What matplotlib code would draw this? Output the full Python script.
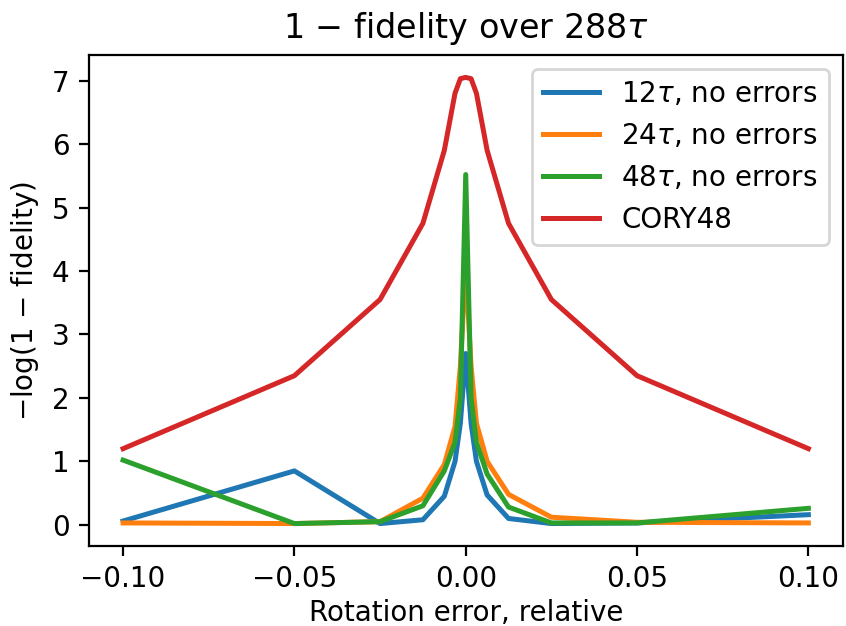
import matplotlib
matplotlib.use("Agg")
import matplotlib.pyplot as plt

# rotation errors (relative)
x = [-0.1, -0.05, -0.025, -0.0125, -0.00625, -0.003125, -0.0015625, 0.0,
     0.0015625, 0.003125, 0.00625, 0.0125, 0.025, 0.05, 0.1]

# -log(1 - fidelity)
y12 = [0.06, 0.85, 0.02, 0.08, 0.45, 1.0, 1.6, 2.7,
       1.6, 1.0, 0.47, 0.1, 0.02, 0.03, 0.16]
y24 = [0.03, 0.02, 0.05, 0.42, 0.95, 1.55, 2.5, 4.1,
       2.5, 1.6, 1.0, 0.48, 0.12, 0.04, 0.03]
y48 = [1.02, 0.02, 0.05, 0.3, 0.85, 1.3, 2.0, 5.52,
       2.0, 1.3, 0.8, 0.28, 0.03, 0.03, 0.26]
ycory = [1.2, 2.35, 3.55, 4.75, 5.9, 6.8, 7.03, 7.05,
         7.03, 6.8, 5.9, 4.75, 3.55, 2.35, 1.2]

labels = [r"12$\tau$, no errors", r"24$\tau$, no errors",
          r"48$\tau$, no errors", "CORY48"]

fig = plt.figure(figsize=(846 / 200, 626 / 200), dpi=200)
ax = fig.add_axes([0.105, 0.128, 0.891, 0.784])

for ys, lab in zip([y12, y24, y48, ycory], labels):
    ax.plot(x, ys, label=lab, lw=1.8)

ax.set_title(r"1 $-$ fidelity over 288$\tau$")
ax.set_xlabel("Rotation error, relative", labelpad=2)
ax.set_ylabel(r"$-$log(1 $-$ fidelity)")
ax.set_xticks([-0.1, -0.05, 0.0, 0.05, 0.1])
ax.legend(loc="upper right")

fig.savefig("out.png", dpi=200)
